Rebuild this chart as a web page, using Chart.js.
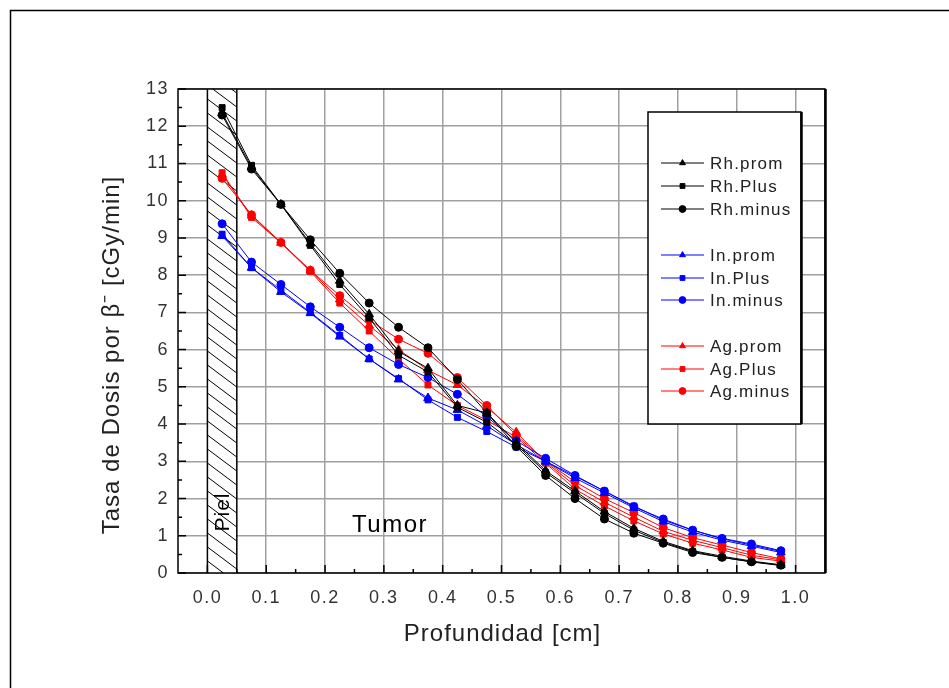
<!DOCTYPE html>
<html>
<head>
<meta charset="utf-8">
<script src="https://cdn.jsdelivr.net/npm/chart.js@4/dist/chart.umd.min.js"></script>
<style>
html,body{margin:0;padding:0;background:#fff;}
#wrap{width:949px;height:688px;position:relative;}
</style>
</head>
<body>
<div id="wrap"><canvas id="c" width="949" height="688"></canvas></div>
<script>
// ---- data ----
const depth = [0.025,0.075,0.125,0.175,0.225,0.275,0.325,0.375,0.425,0.475,0.525,0.575,0.625,0.675,0.725,0.775,0.825,0.875,0.925,0.975];
const rhProm  = [12.35,10.9,9.9,8.85,7.85,6.95,5.95,5.5,4.5,4.3,3.5,2.75,2.2,1.65,1.2,0.85,0.6,0.45,0.32,0.22];
const rhPlus  = [12.5,10.95,9.9,8.8,7.75,6.85,5.85,5.4,4.45,4.05,3.45,2.7,2.15,1.6,1.15,0.82,0.58,0.42,0.3,0.2];
const rhMinus = [12.3,10.85,9.9,8.95,8.05,7.25,6.6,6.05,5.2,4.3,3.4,2.62,2.0,1.45,1.07,0.8,0.55,0.42,0.3,0.21];
const inProm  = [9.05,8.2,7.55,6.98,6.35,5.75,5.2,4.7,4.38,3.95,3.45,3.0,2.55,2.15,1.75,1.38,1.1,0.88,0.72,0.55];
const inPlus  = [9.1,8.2,7.6,7.0,6.38,5.75,5.22,4.65,4.18,3.8,3.38,3.0,2.6,2.2,1.8,1.42,1.15,0.92,0.75,0.58];
const inMinus = [9.38,8.35,7.75,7.15,6.6,6.05,5.6,5.25,4.8,4.2,3.55,3.08,2.62,2.2,1.78,1.45,1.15,0.93,0.78,0.6];
const agProm  = [10.7,9.6,8.87,8.12,7.35,6.65,6.0,5.45,5.05,4.45,3.78,2.98,2.35,1.9,1.5,1.12,0.88,0.68,0.48,0.35];
const agPlus  = [10.75,9.55,8.87,8.1,7.25,6.5,5.75,5.05,4.5,4.1,3.65,2.95,2.25,1.8,1.4,1.05,0.8,0.62,0.42,0.32];
const agMinus = [10.6,9.62,8.88,8.13,7.45,6.8,6.28,5.9,5.25,4.5,3.7,3.0,2.45,2.0,1.62,1.22,0.95,0.75,0.55,0.38];
const seriesNames = ['Rh.prom','Rh.Plus','Rh.minus','In.prom','In.Plus','In.minus','Ag.prom','Ag.Plus','Ag.minus'];
const xTickValues = [0,0.1,0.2,0.3,0.4,0.5,0.6,0.7,0.8,0.9,1.0];
const yTickValues = [0,1,2,3,4,5,6,7,8,9,10,11,12,13];
const xTitle = 'Profundidad [cm]';
const yTitle = 'Tasa de Dosis por \u03B2\u207B [cGy/min]';
const skinLabel = 'Piel';
const tumorLabel = 'Tumor';
const skinRange = [0, 0.05];

// ---- styles ----
const FONT = '"Liberation Sans", Arial, sans-serif';
const seriesData = [rhProm,rhPlus,rhMinus,inProm,inPlus,inMinus,agProm,agPlus,agMinus];
const colors = ['#000000','#000000','#000000','#0000ff','#0000ff','#0000ff','#ff0000','#ff0000','#ff0000'];
const styles = ['triangle','rect','circle','triangle','rect','circle','triangle','rect','circle'];
const radii = [5,4.2,4,5,4.2,4,5,4.2,4];

const datasets = seriesNames.map((n,i)=>({
  label:n,
  data: depth.map((x,j)=>({x:x,y:seriesData[i][j]})),
  borderColor: colors[i],
  backgroundColor: colors[i],
  borderWidth: 1,
  pointStyle: styles[i],
  pointRadius: radii[i],
  pointHoverRadius: radii[i],
  pointBorderWidth: 1,
  tension: 0,
  fill: false
}));

const decor = {
  id:'decor',
  beforeDraw(chart){
    chart.ctx.letterSpacing = '1.5px';
  },
  beforeDatasetsDraw(chart){
    const ctx = chart.ctx, a = chart.chartArea, xs = chart.scales.x;
    const x0 = xs.getPixelForValue(skinRange[0]), x1 = xs.getPixelForValue(skinRange[1]);
    ctx.save();
    ctx.fillStyle = '#fff';
    ctx.fillRect(x0, a.top, x1-x0, a.bottom-a.top);
    ctx.beginPath(); ctx.rect(x0, a.top, x1-x0, a.bottom-a.top); ctx.clip();
    ctx.strokeStyle = '#000'; ctx.lineWidth = 1;
    const slope = 0.75, sp = 14;
    for (let y = a.top - 60; y < a.bottom + 10; y += sp) {
      ctx.beginPath();
      ctx.moveTo(x0, y);
      ctx.lineTo(x1, y + (x1-x0)*slope);
      ctx.stroke();
    }
    ctx.restore();
    ctx.save();
    ctx.strokeStyle = '#000'; ctx.lineWidth = 1.5;
    ctx.beginPath();
    ctx.moveTo(x0, a.top); ctx.lineTo(x0, a.bottom);
    ctx.moveTo(x1, a.top); ctx.lineTo(x1, a.bottom);
    ctx.stroke();
    // texts
    ctx.fillStyle = '#000';
    ctx.letterSpacing = '1px';
    ctx.font = '21px ' + FONT;
    ctx.textAlign = 'center'; ctx.textBaseline = 'middle';
    ctx.save();
    ctx.translate((x0+x1)/2 + 1, 512);
    ctx.rotate(-Math.PI/2);
    ctx.fillText(skinLabel, 0, 0);
    ctx.restore();
    ctx.font = '24px ' + FONT;
    ctx.letterSpacing = '1.5px';
    ctx.fillText(tumorLabel, 390, 525);
    ctx.restore();
  },
  afterDraw(chart){
    const ctx = chart.ctx, a = chart.chartArea, xs = chart.scales.x, ys = chart.scales.y;
    ctx.save();
    // outer frame
    ctx.strokeStyle = '#000'; ctx.lineWidth = 1.5;
    ctx.beginPath();
    ctx.moveTo(10.5, 700); ctx.lineTo(10.5, 10.5); ctx.lineTo(960, 10.5);
    ctx.stroke();
    // plot border
    ctx.lineWidth = 1.5;
    ctx.strokeRect(a.left, a.top, a.right-a.left, a.bottom-a.top);
    ctx.lineWidth = 2.5;
    ctx.beginPath(); ctx.moveTo(a.right+0.5, a.top); ctx.lineTo(a.right+0.5, a.bottom); ctx.stroke();
    // ticks (inward)
    ctx.lineWidth = 1.5;
    ctx.beginPath();
    for (let v = 0; v <= 1.0001; v += 0.05) {
      const px = xs.getPixelForValue(v);
      const major = Math.abs(Math.round(v*10) - v*10) < 1e-6;
      ctx.moveTo(px, a.bottom); ctx.lineTo(px, a.bottom - (major ? 8 : 4));
    }
    for (let v = 0; v <= 13.0001; v += 0.5) {
      const py = ys.getPixelForValue(v);
      const major = Math.abs(Math.round(v) - v) < 1e-6;
      ctx.moveTo(a.left, py); ctx.lineTo(a.left + (major ? 8 : 4), py);
    }
    ctx.stroke();
    // axis titles
    ctx.fillStyle = '#222';
    ctx.font = '24px ' + FONT;
    ctx.letterSpacing = '1px';
    ctx.textAlign = 'center'; ctx.textBaseline = 'middle';
    ctx.fillText(xTitle, (a.left+a.right)/2 + 1, 634);
    ctx.save();
    ctx.translate(112, (a.top+a.bottom)/2 + 24);
    ctx.rotate(-Math.PI/2);
    ctx.fillText(yTitle, 0, 0);
    ctx.restore();
    // legend box
    const bx = 648, by = 112, bw = 153, bh = 312;
    ctx.fillStyle = '#fff';
    ctx.fillRect(bx, by, bw, bh);
    ctx.strokeStyle = '#000'; ctx.lineWidth = 1.5;
    ctx.strokeRect(bx, by, bw, bh);
    ctx.lineWidth = 2.5;
    ctx.beginPath(); ctx.moveTo(bx+bw+0.5, by); ctx.lineTo(bx+bw+0.5, by+bh); ctx.stroke();
    const rows = [163,186,209,255,278,300,346,369,391];
    ctx.font = '17px ' + FONT;
    ctx.letterSpacing = '1.2px';
    ctx.textAlign = 'left'; ctx.textBaseline = 'middle';
    seriesNames.forEach((n,i)=>{
      const y = rows[i];
      ctx.strokeStyle = colors[i]; ctx.fillStyle = colors[i]; ctx.lineWidth = 1;
      ctx.beginPath(); ctx.moveTo(661, y); ctx.lineTo(704, y); ctx.stroke();
      Chart.helpers.drawPoint(ctx, {pointStyle: styles[i], radius: 3.4, borderWidth: 1, rotation: 0}, 682.5, y);
      ctx.fillStyle = '#222';
      ctx.fillText(n, 710, y+1);
    });
    ctx.restore();
  }
};

new Chart(document.getElementById('c'), {
  type:'line',
  data:{datasets},
  plugins:[decor],
  options:{
    responsive:false,
    animation:false,
    devicePixelRatio:1,
    layout:{padding:{top:89,right:124,left:0,bottom:0}},
    plugins:{legend:{display:false},tooltip:{enabled:false},title:{display:false}},
    scales:{
      x:{
        type:'linear', min:-0.05, max:1.05,
        afterBuildTicks:(s)=>{ s.ticks = xTickValues.map(v=>({value:v})); },
        afterFit:(s)=>{ s.height = 115; },
        ticks:{callback:(v)=>Number(v).toFixed(1), color:'#333', font:{family:FONT,size:18}, padding:14, maxRotation:0, autoSkip:false},
        grid:{color:'#a0a0a0', lineWidth:1.5, drawTicks:false},
        border:{display:false}
      },
      y:{
        type:'linear', min:0, max:13,
        afterBuildTicks:(s)=>{ s.ticks = yTickValues.map(v=>({value:v})); },
        afterFit:(s)=>{ s.width = 178; },
        ticks:{callback:(v)=>String(v), color:'#333', font:{family:FONT,size:18}, padding:9, autoSkip:false},
        grid:{color:'#a0a0a0', lineWidth:1.5, drawTicks:false},
        border:{display:false}
      }
    }
  }
});
</script>
</body>
</html>
